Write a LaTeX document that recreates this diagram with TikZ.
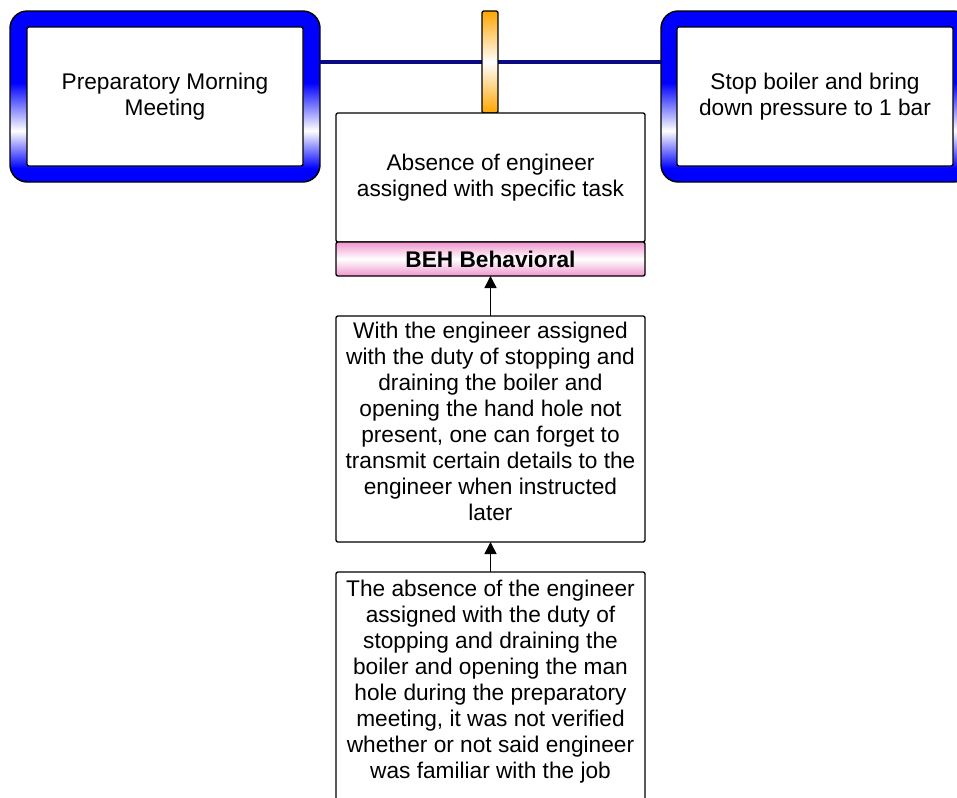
\documentclass[tikz,border=0pt]{standalone}
\usepackage{fontspec}
\setmainfont{Liberation Sans}
\usetikzlibrary{positioning,arrows.meta}
\definecolor{FrameBlue}{RGB}{0,0,255}
\definecolor{LinkNavy}{RGB}{10,10,130}
\definecolor{BarOrange}{RGB}{255,165,0}
\definecolor{BandPink}{RGB}{240,150,205}
\pgfdeclareverticalshading{eventshade}{100bp}{color(0bp)=(FrameBlue); color(29bp)=(FrameBlue); color(40bp)=(white); color(54bp)=(FrameBlue); color(100bp)=(FrameBlue)}

\begin{document}
\begin{tikzpicture}[x=0.75pt, y=-0.75pt, every node/.style={font=\fontsize{17}{19.5}\selectfont}]
  \tikzstyle{frame}=[draw=black, line width=1.1pt, rounded corners=13pt, shade, shading=eventshade,
                     minimum width=232.5pt, minimum height=128.25pt, outer sep=0pt]
  \tikzstyle{event}=[draw=black, line width=1pt, rounded corners=1.5pt, fill=white, align=center,
                     minimum width=207pt, minimum height=104.25pt]
  \tikzstyle{box}=[draw=black, line width=1pt, rounded corners=1.5pt, fill=white, align=center,
                   minimum width=231.75pt, inner sep=1pt, outer sep=0pt]
  \tikzstyle{band}=[box, top color=BandPink, bottom color=BandPink, middle color=white,
                    minimum height=25.5pt]
  \tikzstyle{barrier}=[draw=black, line width=1pt, rounded corners=1.5pt, top color=BarOrange,
                       bottom color=BarOrange, middle color=white, minimum width=12pt,
                       minimum height=76.5pt, inner sep=0pt]
  \tikzstyle{link}=[draw=LinkNavy, line width=2.4pt]
  \tikzstyle{arr}=[-{Triangle[length=9pt,width=9pt]}, line width=1.2pt, black]

  \useasboundingbox (0,0) rectangle (957,797);
  \clip (0,0) rectangle (957,797);

  % events
  \node[frame] (prepframe) at (165,96.5) {};
  \node[event] (prep) at (prepframe) {Preparatory Morning\\Meeting};
  \node[frame] (stopframe) at (816,96.5) {};
  \node[event] (stop) at (815,96.5) {Stop boiler and bring\\down pressure to 1 bar};

  % barrier on the line
  \coordinate (bar) at (490,62);
  \draw[link] (prepframe.east |- bar) -- (stopframe.west |- bar);
  \node[barrier] (barrier) at (bar) {};

  % causes
  \node[box, minimum height=96.75pt] (absence) at (490.5,177.5)
    {Absence of engineer\\assigned with specific task};
  \node[band, below=0pt of absence] (beh) {\textbf{BEH Behavioral}};
  \node[box, minimum height=169.5pt] (forget) at (490.5,429)
    {With the engineer assigned\\with the duty of stopping and\\draining the boiler and\\opening the hand hole not\\present, one can forget to\\transmit certain details to the\\engineer when instructed\\later\\[-8pt]\mbox{}};
  \node[box, minimum height=172.5pt] (verify) at (490.5,687)
    {The absence of the engineer\\assigned with the duty of\\stopping and draining the\\boiler and opening the man\\hole during the preparatory\\meeting, it was not verified\\whether or not said engineer\\was familiar with the job\\[-8pt]\mbox{}};

  \draw[arr] (forget) -- (beh);
  \draw[arr] (verify) -- (forget);
\end{tikzpicture}
\end{document}
